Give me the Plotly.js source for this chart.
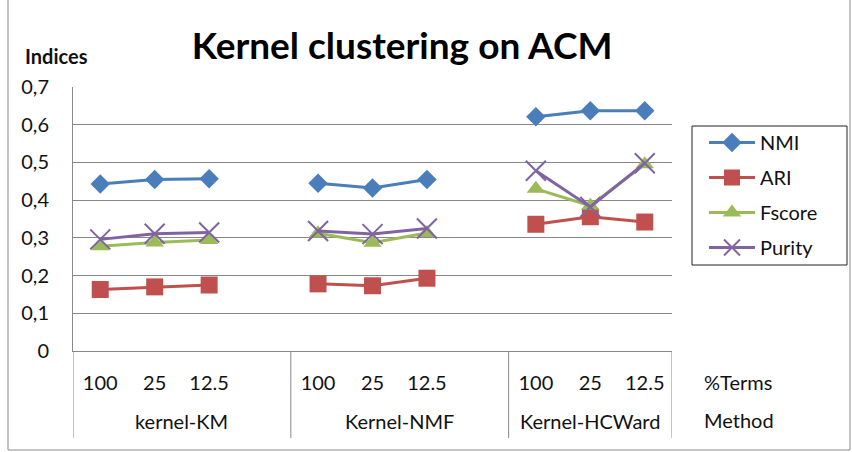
<!DOCTYPE html>
<html>
<head>
<meta charset="utf-8">
<script src="https://cdn.plot.ly/plotly-3.0.1.min.js"></script>
<style>
  html, body { margin: 0; padding: 0; background: #fff; }
  #chart { width: 852px; height: 452px; }
</style>
</head>
<body>
<div id="chart"></div>
<script>
// ---- data ----
const methods = ['kernel-KM', 'Kernel-NMF', 'Kernel-HCWard'];
const terms = ['100', '25', '12.5'];
const seriesNames = ['NMI', 'ARI', 'Fscore', 'Purity'];
// values ordered method by method, term by term
const NMI    = [0.443, 0.455, 0.457, 0.445, 0.432, 0.455, 0.621, 0.637, 0.637];
const ARI    = [0.163, 0.170, 0.175, 0.178, 0.173, 0.193, 0.336, 0.356, 0.342];
const Fscore = [0.278, 0.288, 0.294, 0.312, 0.287, 0.313, 0.430, 0.385, 0.495];
const Purity = [0.296, 0.311, 0.314, 0.318, 0.310, 0.325, 0.478, 0.382, 0.498];

const colors = ['#4A7EBB', '#C0504D', '#9BBB59', '#8064A2'];
const symbols = ['diamond', 'square', 'triangle-up', 'x-thin'];
const sizes = [15, 17, 16, 20];

// category layout: each method block has its terms plus one blank slot
const blockSize = terms.length + 1;
const nSlots = methods.length * blockSize - 1;

function buildXY(vals) {
  const x = [], y = [];
  methods.forEach((m, g) => {
    terms.forEach((t, i) => {
      x.push(g * blockSize + i);
      y.push(vals[g * terms.length + i]);
    });
    if (g < methods.length - 1) { x.push(g * blockSize + terms.length); y.push(null); }
  });
  return {x, y};
}

const allVals = [NMI, ARI, Fscore, Purity];
const FONT = 'Lato, "Open Sans", sans-serif';
const FS = 20;

const traces = allVals.map((vals, k) => {
  const xy = buildXY(vals);
  const isX = symbols[k] === 'x-thin';
  return {
    type: 'scatter', mode: 'lines+markers',
    name: seriesNames[k], legendgroup: seriesNames[k],
    x: xy.x, y: xy.y, connectgaps: false,
    line: {color: colors[k], width: 3},
    marker: {symbol: symbols[k], size: sizes[k], color: colors[k],
             line: isX ? {color: colors[k], width: 2} : {width: 0}}
  };
});

const tickvals = [], ticktext = [];
methods.forEach((m, g) => terms.forEach((t, i) => { tickvals.push(g * blockSize + i); ticktext.push(t); }));

const lineGrey = '#888888';
const shapes = [];
const annotations = [];
const px2x = p => (p - 73) / 599;
const px2y = p => (351 - p) / 264;
// group dividers below the axis
for (let g = 0; g <= methods.length; g++) {
  const xv = Math.min(g * blockSize - 0.5, nSlots - 0.5);
  shapes.push({type: 'line', xref: 'x', yref: 'paper', x0: xv, x1: xv, y0: 0, y1: px2y(438),
               line: {color: lineGrey, width: 1}});
}
methods.forEach((m, g) => {
  const start = g * blockSize - 0.5;
  const end = Math.min(g * blockSize + blockSize - 0.5, nSlots - 0.5);
  annotations.push({text: m, xref: 'x', yref: 'paper', x: (start + end) / 2, y: px2y(421),
                    showarrow: false, xanchor: 'center', yanchor: 'middle',
                    font: {family: FONT, size: FS, color: '#111'}});
});
annotations.push({text: '%Terms', xref: 'paper', yref: 'paper', x: px2x(702), y: px2y(382),
                  showarrow: false, xanchor: 'left', yanchor: 'middle', font: {family: FONT, size: FS, color: '#111'}});
annotations.push({text: 'Method', xref: 'paper', yref: 'paper', x: px2x(702), y: px2y(420),
                  showarrow: false, xanchor: 'left', yanchor: 'middle', font: {family: FONT, size: FS, color: '#111'}});
annotations.push({text: 'Indices', xref: 'paper', yref: 'paper', x: px2x(56), y: px2y(56),
                  showarrow: false, xanchor: 'center', yanchor: 'middle',
                  font: {family: FONT, size: FS, color: '#111', weight: 700}});
// outer frame
shapes.push({type: 'rect', xref: 'paper', yref: 'paper',
             x0: px2x(8), x1: px2x(850), y0: px2y(450), y1: px2y(-5),
             line: {color: '#8c8c8c', width: 1}, layer: 'below'});
// legend box
shapes.push({type: 'rect', xref: 'paper', yref: 'paper',
             x0: px2x(692), x1: px2x(847), y0: px2y(265), y1: px2y(126),
             line: {color: '#222', width: 1}, fillcolor: 'rgba(0,0,0,0)'});

const layout = {
  width: 852, height: 452,
  margin: {l: 73, r: 180, t: 87, b: 101},
  paper_bgcolor: '#fff', plot_bgcolor: '#fff',
  separators: ', ',
  font: {family: FONT, size: FS, color: '#111'},
  title: {text: 'Kernel clustering on ACM', xref: 'container', yref: 'container',
          x: 402 / 852, y: 1 - 46 / 452, xanchor: 'center', yanchor: 'middle',
          font: {family: FONT, size: 37, color: '#000', weight: 700}},
  xaxis: {range: [-0.5, nSlots - 0.5], tickvals: tickvals, ticktext: ticktext,
          showgrid: false, zeroline: false, showline: true, linecolor: lineGrey, linewidth: 1,
          ticks: '', ticklabelstandoff: 14, tickfont: {family: FONT, size: FS, color: '#111'},
          fixedrange: true},
  yaxis: {range: [0, 0.7], dtick: 0.1, tick0: 0, showgrid: true, gridcolor: lineGrey, gridwidth: 1,
          zeroline: false, showline: true, linecolor: lineGrey, linewidth: 1,
          ticks: '', ticklabelstandoff: 19, tickfont: {family: FONT, size: FS, color: '#111'},
          fixedrange: true},
  showlegend: true,
  legend: {x: px2x(704), y: px2y(123), xanchor: 'left', yanchor: 'top',
           borderwidth: 0, bgcolor: 'rgba(0,0,0,0)',
           font: {family: FONT, size: FS, color: '#111'},
           tracegroupgap: 6, itemwidth: 46},
  shapes: shapes,
  annotations: annotations
};

Plotly.newPlot('chart', traces, layout, {displayModeBar: false, staticPlot: true});
</script>
</body>
</html>
